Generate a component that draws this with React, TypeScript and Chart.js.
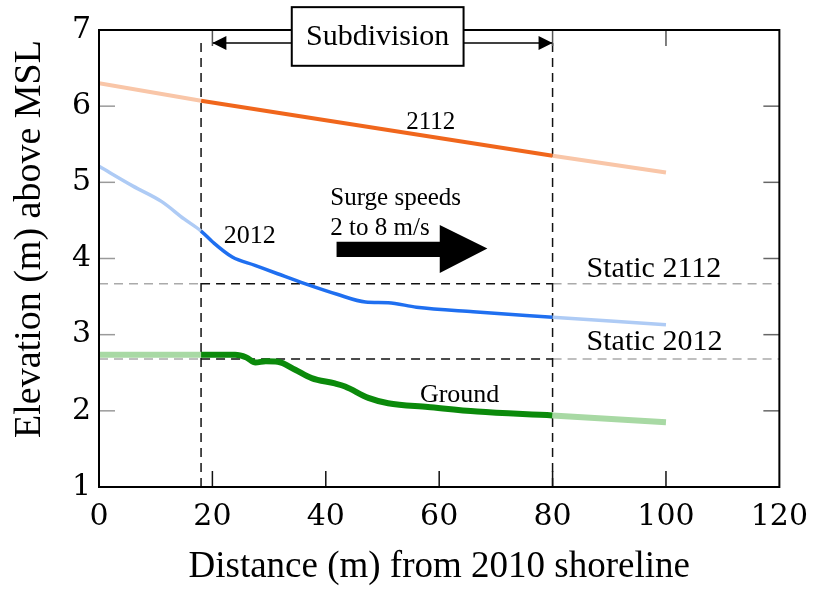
import { useEffect, useRef } from "react";
import { Chart, registerables } from "chart.js";

Chart.register(...registerables);

// ---------- data ----------
const xTickValues = [0, 20, 40, 60, 80, 100, 120];
const yTickValues = [1, 2, 3, 4, 5, 6, 7];

const x2112 = [0, 18, 80, 100];
const y2112 = [6.3, 6.07, 5.35, 5.13];

const x2012 = [0, 6, 11, 15, 18, 20, 23.5, 27.5, 31.5, 36.3, 42, 47, 51, 56, 66, 80, 100];
const y2012 = [5.21, 4.95, 4.75, 4.52, 4.36, 4.22, 4.02, 3.91, 3.8, 3.67, 3.53, 3.43, 3.42, 3.36, 3.3, 3.23, 3.13];

const xGround = [0, 18, 24, 26, 27.6, 29.4, 31.5, 34.6, 37.5, 41.6, 43.4, 47.5, 51, 58, 66.7, 80, 100];
const yGround = [2.735, 2.735, 2.735, 2.7, 2.635, 2.65, 2.645, 2.54, 2.43, 2.36, 2.32, 2.17, 2.1, 2.05, 1.99, 1.94, 1.85];

const static2112 = 3.67;
const static2012 = 2.68;
const subdivisionStart = 18;
const subdivisionEnd = 80;
const subdivisionArrowStart = 20;
const subdivisionArrowLevel = 6.83;

const yTitle = "Elevation (m) above MSL";
const xTitle = "Distance (m) from 2010 shoreline";

// ---------- styles ----------
const SERIF = "'Liberation Serif', 'Times New Roman', serif";
const TICK_FONT = "'DejaVu Serif', serif";

const toPts = (xs: number[], ys: number[]) => xs.map((x, i) => ({ x, y: ys[i] }));

const inside = (ctx: any) =>
  ctx.p0.parsed.x >= subdivisionStart - 1e-9 && ctx.p1.parsed.x <= subdivisionEnd + 1e-9;

const twoTone = (dark: string, light: string) => (ctx: any) => (inside(ctx) ? dark : light);

const overlayPlugin = {
  id: "overlay",
  afterDatasetsDraw(chart: any) {
    const { ctx, chartArea: ca, scales } = chart;
    const xs = scales.x;
    const ys = scales.y;
    const X = (v: number) => xs.getPixelForValue(v);
    const Y = (v: number) => ys.getPixelForValue(v);
    ctx.save();

    // inner ticks
    ctx.lineWidth = 1.5;
    for (const v of yTickValues.slice(1, -1)) {
      ctx.strokeStyle = "#9a9a9a";
      ctx.beginPath();
      ctx.moveTo(ca.left, Y(v));
      ctx.lineTo(ca.left + 16, Y(v));
      ctx.stroke();
      ctx.strokeStyle = "#666";
      ctx.beginPath();
      ctx.moveTo(ca.right, Y(v));
      ctx.lineTo(ca.right - 16, Y(v));
      ctx.stroke();
    }
    for (const v of xTickValues.slice(1, -1)) {
      ctx.strokeStyle = "#111";
      ctx.beginPath();
      ctx.moveTo(X(v), ca.bottom);
      ctx.lineTo(X(v), ca.bottom - 16);
      ctx.stroke();
      ctx.strokeStyle = "#555";
      ctx.beginPath();
      ctx.moveTo(X(v), ca.top);
      ctx.lineTo(X(v), ca.top + 16);
      ctx.stroke();
    }

    // frame
    ctx.strokeStyle = "#000";
    ctx.lineWidth = 2;
    ctx.strokeRect(ca.left, ca.top, ca.right - ca.left, ca.bottom - ca.top);

    // subdivision arrowheads
    const ay = Y(subdivisionArrowLevel);
    const lx = X(subdivisionArrowStart);
    const rx = X(subdivisionEnd);
    ctx.fillStyle = "#000";
    ctx.beginPath();
    ctx.moveTo(lx, ay);
    ctx.lineTo(lx + 14, ay - 7);
    ctx.lineTo(lx + 14, ay + 7);
    ctx.closePath();
    ctx.fill();
    ctx.beginPath();
    ctx.moveTo(rx, ay);
    ctx.lineTo(rx - 14, ay - 7);
    ctx.lineTo(rx - 14, ay + 7);
    ctx.closePath();
    ctx.fill();

    // subdivision box
    const bx0 = X(34.0), bx1 = X(64.3), by0 = Y(7.3), by1 = Y(6.53);
    ctx.fillStyle = "#fff";
    ctx.fillRect(bx0, by0, bx1 - bx0, by1 - by0);
    ctx.strokeStyle = "#000";
    ctx.lineWidth = 2;
    ctx.strokeRect(bx0, by0, bx1 - bx0, by1 - by0);
    ctx.fillStyle = "#000";
    ctx.textBaseline = "alphabetic";
    ctx.textAlign = "center";
    ctx.font = `30px ${SERIF}`;
    ctx.fillText("Subdivision", (bx0 + bx1) / 2, Y(6.8));

    // block arrow
    ctx.beginPath();
    ctx.moveTo(X(41.9), Y(4.22));
    ctx.lineTo(X(60.1), Y(4.22));
    ctx.lineTo(X(60.1), Y(4.44));
    ctx.lineTo(X(68.5), Y(4.13));
    ctx.lineTo(X(60.1), Y(3.81));
    ctx.lineTo(X(60.1), Y(4.02));
    ctx.lineTo(X(41.9), Y(4.02));
    ctx.closePath();
    ctx.fill();

    // annotations
    ctx.textAlign = "center";
    ctx.font = `25px ${SERIF}`;
    ctx.fillText("2112", X(58.5), Y(5.7));
    ctx.font = `26px ${SERIF}`;
    ctx.fillText("2012", X(26.6), Y(4.205));
    ctx.fillText("Ground", X(63.6), Y(2.12));
    ctx.textAlign = "left";
    ctx.font = `25px ${SERIF}`;
    ctx.fillText("Surge speeds", X(40.8), Y(4.7));
    ctx.fillText("2 to 8 m/s", X(40.8), Y(4.31));
    ctx.font = `30px ${SERIF}`;
    ctx.fillText("Static 2112", X(86.0), Y(3.76));
    ctx.fillText("Static 2012", X(86.0), Y(2.8));

    // y-axis title
    ctx.save();
    ctx.translate(30, 239);
    ctx.rotate(-Math.PI / 2);
    ctx.textAlign = "center";
    ctx.textBaseline = "middle";
    ctx.font = `38px ${SERIF}`;
    ctx.fillText(yTitle, 0, 0);
    ctx.restore();

    ctx.restore();
  },
};

export default function App() {
  const ref = useRef<HTMLCanvasElement | null>(null);

  useEffect(() => {
    document.body.style.margin = "0";
    const canvas = ref.current;
    if (!canvas) return;

    const refLine = (level: number) => ({
      data: [
        { x: 0, y: level },
        { x: subdivisionStart, y: level },
        { x: subdivisionEnd, y: level },
        { x: 120, y: level },
      ],
      borderWidth: 1.5,
      borderDash: [9, 6],
      pointRadius: 0,
      segment: { borderColor: twoTone("#111", "#aaaaaa") },
      borderColor: "#111",
    });

    const vLine = (xv: number) => ({
      data: [
        { x: xv, y: 1 },
        { x: xv, y: 6.9 },
      ],
      borderColor: "#111",
      borderWidth: 1.5,
      borderDash: [9, 6],
      pointRadius: 0,
    });

    const chart = new Chart(canvas, {
      type: "line",
      data: {
        datasets: [
          {
            data: toPts(xGround, yGround),
            borderWidth: 6,
            borderColor: "#0b8a0b",
            segment: { borderColor: twoTone("#0b8a0b", "#a8d9a4") },
            cubicInterpolationMode: "monotone",
            pointRadius: 0,
          },
          {
            data: toPts(x2012, y2012),
            borderWidth: 3.5,
            borderColor: "#1f6ff0",
            segment: { borderColor: twoTone("#1f6ff0", "#aecbf5") },
            cubicInterpolationMode: "monotone",
            pointRadius: 0,
          },
          {
            data: toPts(x2112, y2112),
            borderWidth: 4,
            borderColor: "#f0661c",
            segment: { borderColor: twoTone("#f0661c", "#f9c6a8") },
            pointRadius: 0,
          },
          {
            data: [
              { x: subdivisionArrowStart, y: subdivisionArrowLevel },
              { x: subdivisionEnd, y: subdivisionArrowLevel },
            ],
            borderColor: "#000",
            borderWidth: 1.5,
            pointRadius: 0,
          },
          vLine(subdivisionStart),
          vLine(subdivisionEnd),
          refLine(static2112),
          refLine(static2012),
        ] as any,
      },
      options: {
        animation: false,
        responsive: false,
        devicePixelRatio: 1,
        layout: { padding: { left: 0, right: 36, top: 30, bottom: 0 } },
        plugins: { legend: { display: false }, tooltip: { enabled: false } },
        scales: {
          x: {
            type: "linear",
            min: 0,
            max: 120,
            afterFit: (s: any) => {
              s.height = 102;
            },
            afterBuildTicks: (s: any) => {
              s.ticks = xTickValues.map((v) => ({ value: v }));
            },
            grid: { display: false, drawTicks: false, tickLength: 0 },
            border: { display: false },
            ticks: {
              padding: 12,
              color: "#000",
              font: { family: TICK_FONT, size: 30 },
              maxRotation: 0,
            },
            title: {
              display: true,
              text: xTitle,
              color: "#000",
              font: { family: SERIF, size: 37, lineHeight: 1 },
              padding: { top: 0, bottom: 3 },
            },
          },
          y: {
            type: "linear",
            min: 1,
            max: 7,
            afterFit: (s: any) => {
              s.width = 99;
            },
            afterBuildTicks: (s: any) => {
              s.ticks = yTickValues.map((v) => ({ value: v }));
            },
            grid: { display: false, drawTicks: false, tickLength: 0 },
            border: { display: false },
            ticks: {
              padding: 8,
              color: "#000",
              font: { family: TICK_FONT, size: 30 },
            },
            title: { display: false },
          },
        },
      },
      plugins: [overlayPlugin],
    });

    return () => chart.destroy();
  }, []);

  return (
    <div style={{ width: 820, height: 589 }}>
      <canvas ref={ref} width={820} height={589} style={{ display: "block" }} />
    </div>
  );
}
